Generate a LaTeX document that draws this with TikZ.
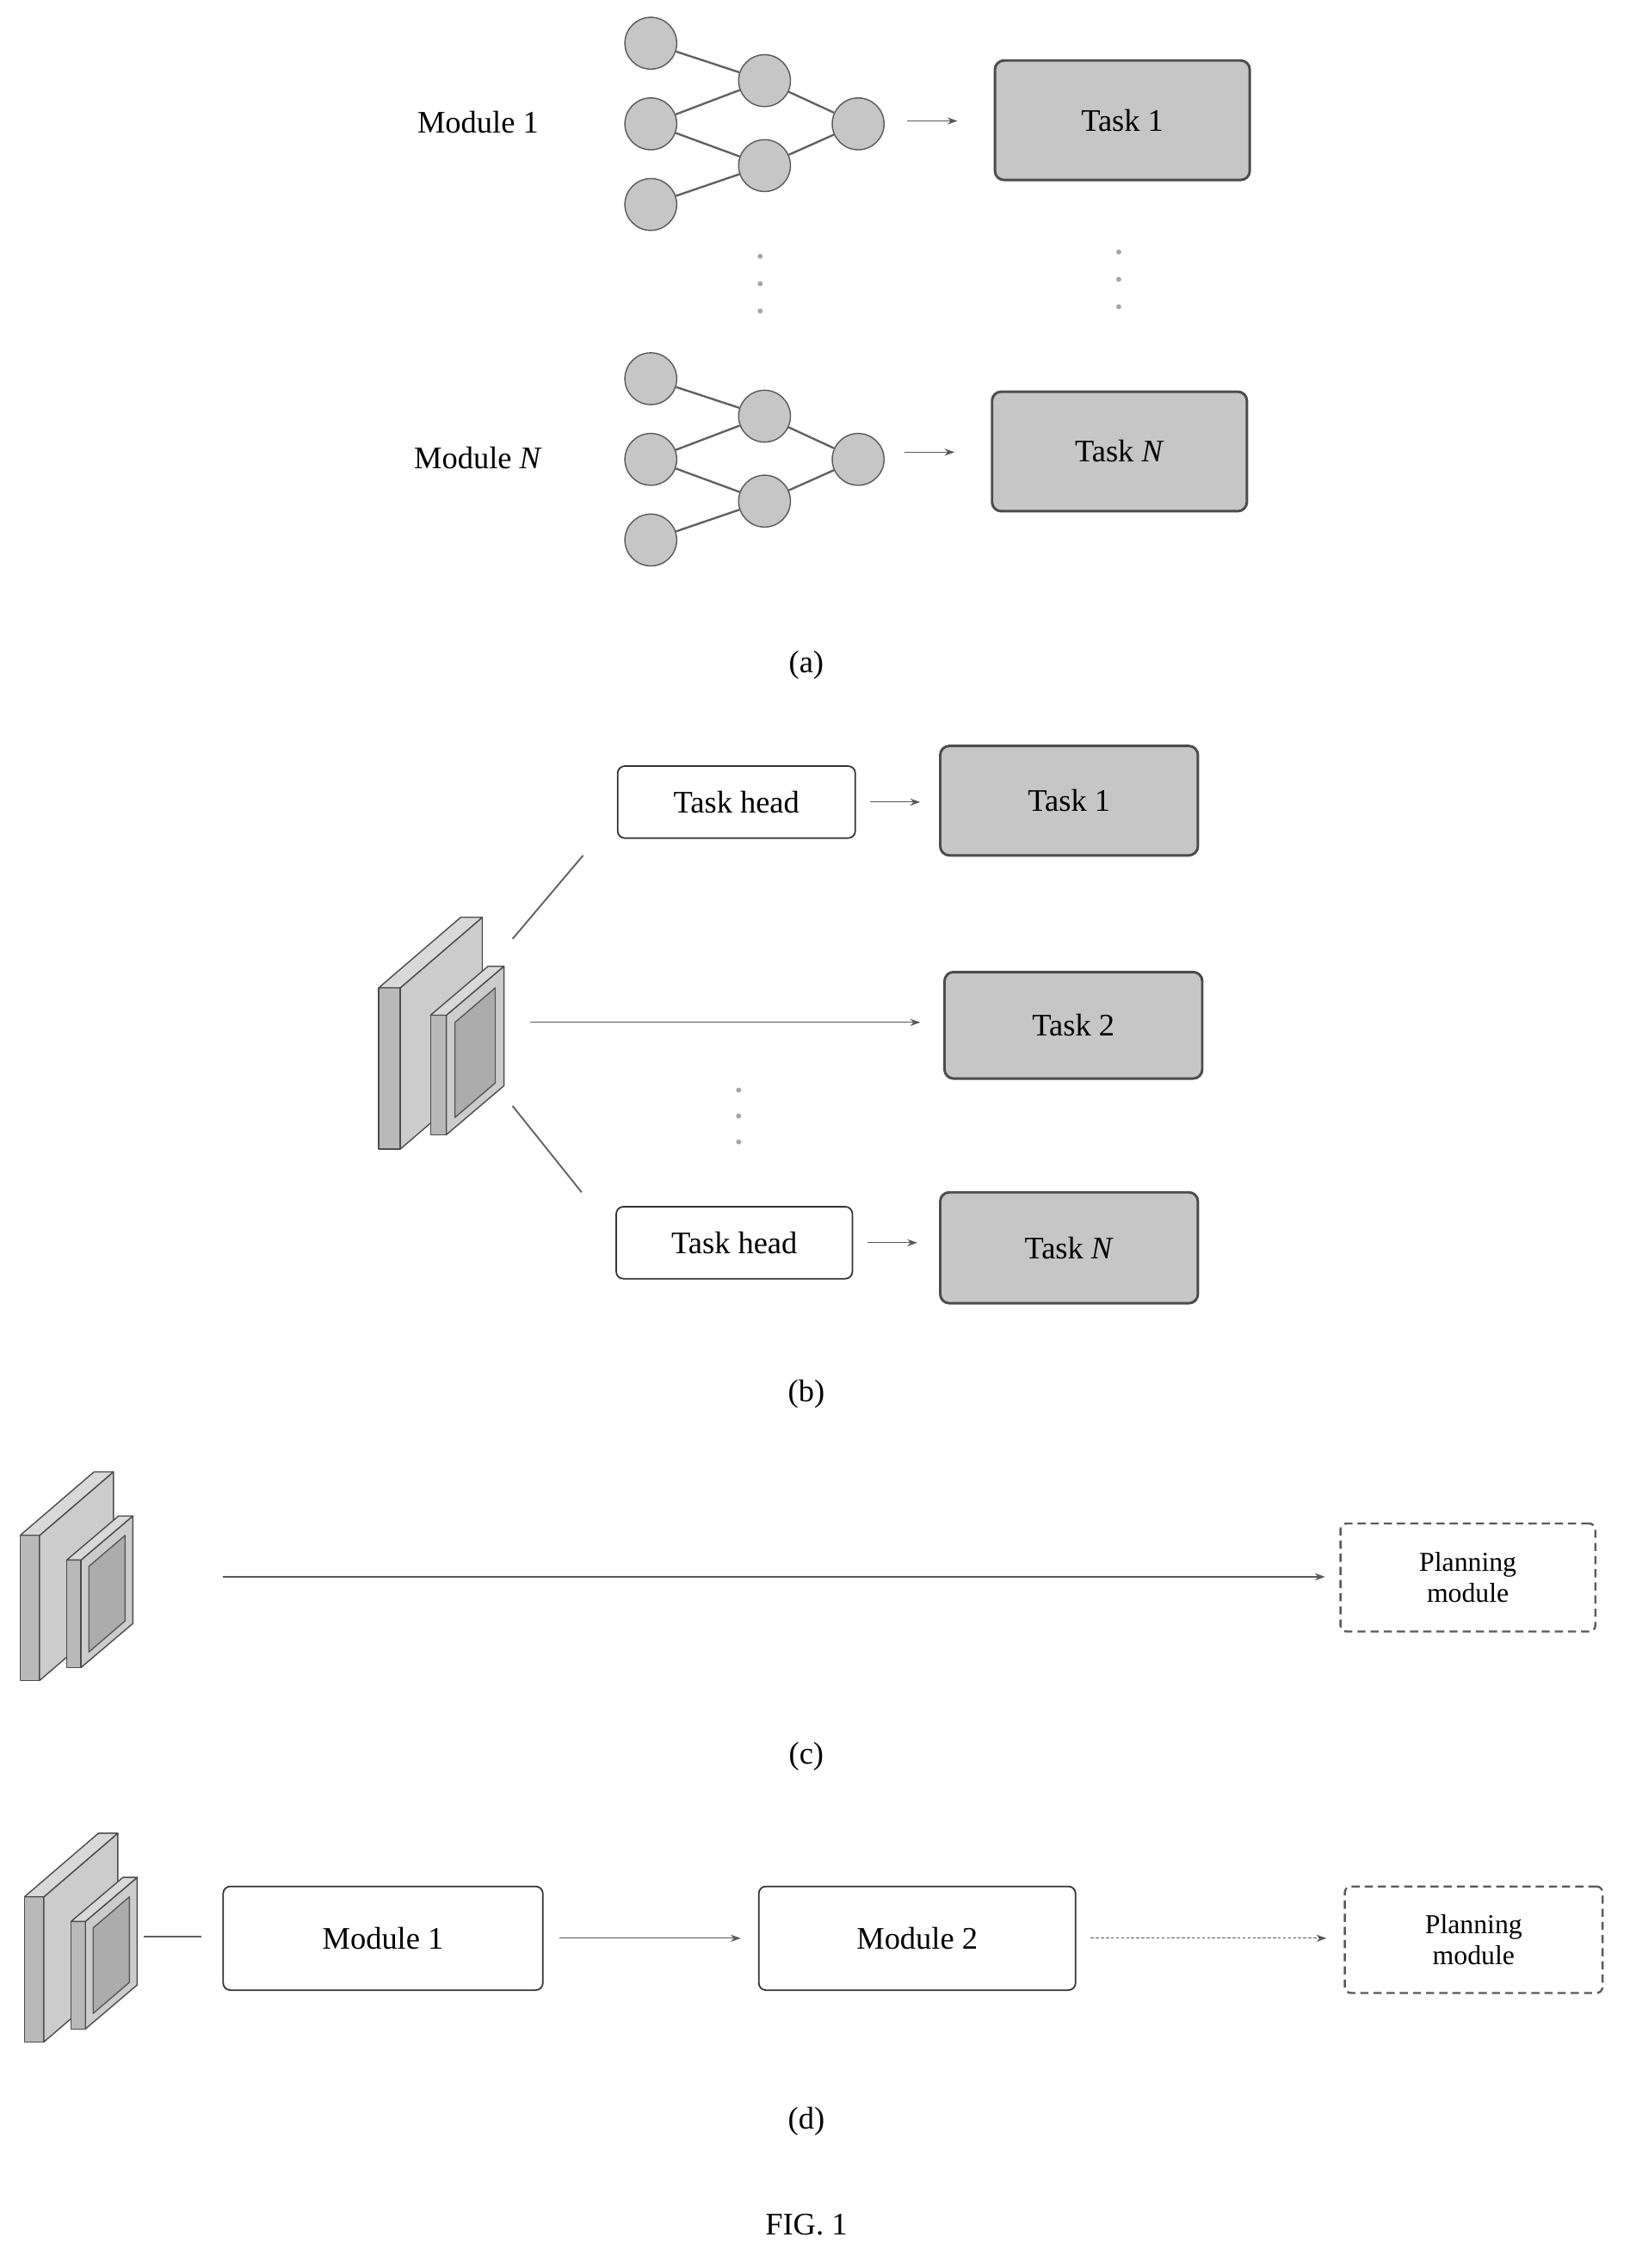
\documentclass[tikz,border=0pt]{standalone}
\usepackage{fontspec}
\setmainfont{Liberation Serif}
\usetikzlibrary{arrows.meta}
\begin{document}
\begin{tikzpicture}[x=0.05cm,y=-0.05cm,
  txt/.style={font=\fontsize{31}{36}\selectfont},
  neuron/.style={circle,draw=gray!70!black,line width=1.2pt,fill=gray!45,minimum size=36*0.05cm,inner sep=0},
  edge/.style={draw=gray!75!black,line width=2pt},
  task/.style={draw=gray!60!black,line width=2.5pt,rounded corners=9pt,fill=gray!45,txt},
  head/.style={draw=black!80,line width=1.5pt,rounded corners=7pt,fill=white,txt},
  plan/.style={draw=gray!70!black,line width=2pt,dashed,dash pattern=on 8pt off 5pt,rounded corners=6pt,txt,align=center,font=\fontsize{27}{31}\selectfont},
  arr/.style={draw=gray!70!black,line width=1pt,-{Stealth[length=10pt,width=7pt]}},
  dot/.style={circle,fill=gray!70,inner sep=0,minimum size=5pt},
  block/.pic={
    \begin{scope}[draw=gray!60!black,line width=1.2pt,line join=round]
    \filldraw[fill=gray!55] (0,0) rectangle (15,-112);
    \filldraw[fill=gray!40] (15,0) -- (15,-112) -- (72,-161) -- (72,-49) -- cycle;
    \filldraw[fill=gray!30] (0,-112) -- (15,-112) -- (72,-161) -- (57,-161) -- cycle;
    \filldraw[fill=gray!55] (36,-10) rectangle (47,-93);
    \filldraw[fill=gray!40] (47,-10) -- (47,-93) -- (87,-127) -- (87,-44) -- cycle;
    \filldraw[fill=gray!30] (36,-93) -- (47,-93) -- (87,-127) -- (76,-127) -- cycle;
    \filldraw[fill=gray!65,draw=gray!70!black] (53,-22) -- (53,-88) -- (81,-112) -- (81,-46) -- cycle;
    \end{scope}}]
\useasboundingbox (0,0) rectangle (1132,1575);

% (a)
\foreach \s/\oy/\lab in {1/0/Module 1, N/233/Module \textit{N}}{
  \node[neuron] (i1\s) at (452,30+\oy) {};
  \node[neuron] (i2\s) at (452,86+\oy) {};
  \node[neuron] (i3\s) at (452,142+\oy) {};
  \node[neuron] (h1\s) at (531,56+\oy) {};
  \node[neuron] (h2\s) at (531,115+\oy) {};
  \node[neuron] (o\s) at (596,86+\oy) {};
  \node[txt] (m\s) at (332,85+\oy) {\lab};
}
\foreach \s in {1,N}{
  \draw[edge] (i1\s) -- (h1\s); \draw[edge] (i2\s) -- (h1\s);
  \draw[edge] (i2\s) -- (h2\s); \draw[edge] (i3\s) -- (h2\s);
  \draw[edge] (h1\s) -- (o\s); \draw[edge] (h2\s) -- (o\s);
}
\node[task,minimum width=177*0.05cm,minimum height=83*0.05cm] (ta1) at (779.5,83.5) {Task 1};
\node[task,minimum width=177*0.05cm,minimum height=83*0.05cm] (taN) at (777.5,313.5) {Task \textit{N}};
\coordinate (a1s) at (630,84); \coordinate (a1e) at (665,84);
\coordinate (aNs) at (628,314); \coordinate (aNe) at (663,314);
\draw[arr] (a1s) -- (a1e); \draw[arr] (aNs) -- (aNe);
\foreach \y in {178,197,216}{\node[dot] at (528,\y) {}; \node[dot] at (777,\y-3) {};}
\node[txt] (la) at (560,462) {(a)};

% (b)
\pic at (263,798) {block};
\node[head,minimum width=165*0.05cm,minimum height=50*0.05cm] (th1) at (511.5,557) {Task head};
\node[head,minimum width=164*0.05cm,minimum height=50*0.05cm] (thN) at (510,863) {Task head};
\node[task,minimum width=179*0.05cm,minimum height=76*0.05cm] (tb1) at (742.5,556) {Task 1};
\node[task,minimum width=179*0.05cm,minimum height=74*0.05cm] (tb2) at (745.5,712) {Task 2};
\node[task,minimum width=179*0.05cm,minimum height=77*0.05cm] (tbN) at (742.5,866.5) {Task \textit{N}};
\draw[arr] ([xshift=10*0.05cm]th1.east) -- ([xshift=-13*0.05cm]th1.east -| tb1.west);
\draw[arr] ([xshift=10*0.05cm]thN.east) -- ([xshift=-15*0.05cm]thN.east -| tbN.west);
\coordinate (b2s) at (368,710);
\draw[arr] (b2s) -- ([xshift=-16*0.05cm]b2s -| tb2.west);
\coordinate (l1a) at (356,652); \coordinate (l1b) at (405,594);
\coordinate (l2a) at (356,768); \coordinate (l2b) at (404,828);
\draw[edge,line width=1.6pt] (l1a) -- (l1b); \draw[edge,line width=1.6pt] (l2a) -- (l2b);
\foreach \y in {757,775,793}{\node[dot] at (513,\y) {};}
\node[txt] (lb) at (560,968) {(b)};

% (c)
\pic[scale=0.9] at (14,1167) {block};
\node[plan,minimum width=177*0.05cm,minimum height=75*0.05cm] (pc) at (1019.5,1095.5) {Planning\\module};
\coordinate (cs) at (155,1095);
\draw[arr] (cs) -- ([xshift=-10*0.05cm]cs -| pc.west);
\node[txt] (lc) at (560,1220) {(c)};

% (d)
\pic[scale=0.9] at (17,1418) {block};
\node[head,minimum width=222*0.05cm,minimum height=72*0.05cm] (dm1) at (266,1346) {Module 1};
\node[head,minimum width=220*0.05cm,minimum height=72*0.05cm] (dm2) at (637,1346) {Module 2};
\node[plan,minimum width=179*0.05cm,minimum height=74*0.05cm] (pd) at (1023.5,1347) {Planning\\module};
\coordinate (ds) at (100,1345); \coordinate (de) at (140,1345);
\draw[edge,line width=1.6pt] (ds) -- (de);
\draw[arr] ([xshift=11*0.05cm]dm1.east) -- ([xshift=-12*0.05cm]dm2.west);
\draw[arr,densely dashed] ([xshift=10*0.05cm]dm2.east) -- ([xshift=-12*0.05cm]dm2.east -| pd.west);
\node[txt] (ld) at (560,1473) {(d)};
\node[txt] (fig) at (560,1545) {FIG. 1};
\end{tikzpicture}
\end{document}
